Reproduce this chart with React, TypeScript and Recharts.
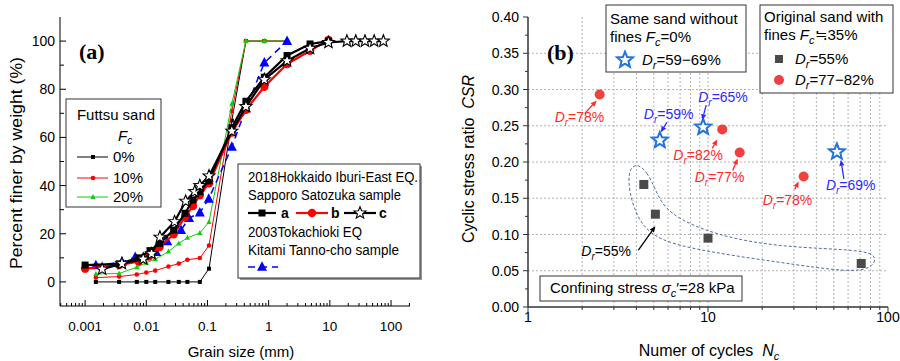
import React from 'react';
import { ScatterChart, Scatter, XAxis, YAxis, ReferenceLine } from 'recharts';

// ---------- panel (a): grain size distribution ----------
const futtsuSizes = [0.0015, 0.0036, 0.007, 0.01, 0.014, 0.023, 0.034, 0.047, 0.075, 0.106, 0.25, 0.425, 0.85, 2.0];
const futtsu0 = [0, 0, 0, 0, 0, 0, 0, 0, 0, 5.5, 67, 100, 100, 100];
const futtsu10 = [1.8, 2.2, 3.1, 3.9, 4.7, 6.4, 7.6, 9.2, 9.9, 15.1, 71, 100, 100, 100];
const futtsu20 = [3.3, 3.5, 6.1, 8.0, 9.4, 12.6, 16, 18.3, 20.3, 24.9, 74, 100, 100, 100];

const sapporoASizes = [0.001, 0.0036, 0.0075, 0.0115, 0.0165, 0.028, 0.043, 0.058, 0.075, 0.106, 0.25, 0.425, 0.85, 2, 4.75, 9.5];
const sapporoA = [7, 7.5, 10, 13, 16, 21.5, 28.5, 34, 37.5, 42, 64, 75, 85, 94, 98.8, 100];
const sapporoBSizes = [0.001, 0.0036, 0.0075, 0.011, 0.0165, 0.028, 0.043, 0.058, 0.075, 0.106, 0.25, 0.425, 0.85, 2, 4.75, 9.5];
const sapporoB = [5.5, 7, 8.5, 10.5, 14.5, 19.8, 27, 31.5, 36, 41, 62, 71.5, 81, 90.5, 96, 100.5];
const sapporoCSizes = [0.0019, 0.004, 0.0089, 0.0122, 0.0167, 0.029, 0.044, 0.062, 0.075, 0.106, 0.25, 0.425, 0.85, 2, 4.75, 9.5, 19, 26.5, 37.5, 53, 75];
const sapporoC = [5.3, 7.6, 9.5, 11.7, 18.6, 25, 33.5, 37.5, 40, 44, 62.6, 72.8, 84, 91.8, 97, 99.4, 100, 100, 100, 100, 100];

const kitamiSizes = [0.0015, 0.004, 0.0066, 0.0145, 0.022, 0.037, 0.05, 0.075, 0.105, 0.25, 0.425, 0.85, 2.0];
const kitami = [6.8, 8.3, 10.3, 12.3, 16.8, 21.5, 26.5, 28.7, 34.5, 56, 72, 91, 100];

const grainMajor = [0.001, 0.01, 0.1, 1, 10, 100];
const pctMajor = [0, 20, 40, 60, 80, 100];
const pctAll = [0, 10, 20, 30, 40, 50, 60, 70, 80, 90, 100];

// ---------- panel (b): cyclic strength ----------
const looseN = [4.4, 5.1, 10, 71];
const looseCsr = [0.169, 0.128, 0.095, 0.06];
const denseN = [2.5, 12, 15, 34];
const denseCsr = [0.293, 0.245, 0.213, 0.18];
const cleanN = [5.4, 9.4, 52];
const cleanCsr = [0.23, 0.248, 0.214];

// dashed loop around the Dr=55% tests
const outlineN = [4.0, 4.6, 5.1, 5.9, 11.2, 26, 76, 87, 81, 60, 26, 7.2, 4.1, 3.45];
const outlineCsr = [0.2, 0.186, 0.162, 0.128, 0.098, 0.082, 0.079, 0.068, 0.053, 0.048, 0.061, 0.081, 0.104, 0.184];

const nMajor = [1, 10, 100];
const csrMajor = [0, 0.05, 0.1, 0.15, 0.2, 0.25, 0.3, 0.35, 0.4];
const csrGrid = [0.05, 0.1, 0.15, 0.2, 0.25, 0.3, 0.35];

const noteLabels = ['=78%', '=59%', '=65%', '=82%', '=77%', '=78%', '=69%', '=55%'];

const RED = '#ff0000';
const GREEN = '#11cc11';
const BLUE = '#0000ff';
const B_RED = '#f04141';
const B_BLUE = '#2372e0';
const T_RED = '#ff2a2a';
const T_BLUE = '#2b2bff';
const GREY_SQ = '#4a4a4a';
const OUTLINE = '#4f6f9f';
const SANS = "'Liberation Sans', Arial, sans-serif";
const SERIF = "'Liberation Serif', 'Times New Roman', serif";

const pairs = (xs: number[], ys: number[]) => xs.map((d, i) => ({ d, p: ys[i] }));
const decadeMinors = (bases: number[], lo: number, hi: number) =>
  bases.flatMap((b) => [1, 2, 3, 4, 5, 6, 7, 8, 9].map((m) => +(b * m).toPrecision(6))).filter((v) => v >= lo && v <= hi);

const A_DOMAIN: [number, number] = [Math.pow(10, -3.41), Math.pow(10, 2.31)];
const grainTicks = decadeMinors([0.0001, 0.001, 0.01, 0.1, 1, 10, 100], A_DOMAIN[0], A_DOMAIN[1]);
const nTicks = decadeMinors([1, 10, 100], 1, 100);
const csrTicks = Array.from({ length: 17 }, (_, i) => +(i * 0.025).toFixed(3));

const noteLayout = [
  { tip: [-3, 6], tail: [-15, 19], text: [-45, 27], color: T_RED },
  { tip: [1, -8], tail: [7, -18], text: [-16, -21], color: T_BLUE },
  { tip: [-1, -7], tail: [3, -22], text: [-5, -25], color: T_BLUE },
  { tip: [-5, 10], tail: [-10, 19], text: [-49, 31], color: T_RED },
  { tip: [-2, 6], tail: [-7, 18], text: [-45, 29], color: T_RED },
  { tip: [-5, 5], tail: [-9, 13], text: [-41, 28], color: T_RED },
  { tip: [4, 8], tail: [7, 27], text: [-11, 38], color: T_BLUE },
  { tip: [0, 12], tail: [-17, 36], text: [-74, 42], color: '#000' },
];
const noteTargets = [
  [denseN[0], denseCsr[0]],
  [cleanN[0], cleanCsr[0]],
  [cleanN[1], cleanCsr[1]],
  [denseN[1], denseCsr[1]],
  [denseN[2], denseCsr[2]],
  [denseN[3], denseCsr[3]],
  [cleanN[2], cleanCsr[2]],
  [looseN[1], looseCsr[1]],
];
const notes = noteTargets.map(([d, p], i) => ({ d, p, label: noteLabels[i], ...noteLayout[i] }));

function starPath(cx: number, cy: number, ro: number, ri: number) {
  let s = '';
  for (let i = 0; i < 10; i++) {
    const r = i % 2 === 0 ? ro : ri;
    const a = -Math.PI / 2 + (i * Math.PI) / 5;
    s += (i === 0 ? 'M' : 'L') + (cx + r * Math.cos(a)).toFixed(2) + ',' + (cy + r * Math.sin(a)).toFixed(2);
  }
  return s + 'Z';
}
const triPath = (cx: number, cy: number, w: number, h: number) =>
  `M${cx},${cy - h * 0.6}L${cx + w},${cy + h * 0.4}L${cx - w},${cy + h * 0.4}Z`;

// marker shapes
const sqSmall = ({ cx, cy }: any) => <rect x={cx - 2} y={cy - 2} width={4} height={4} fill="#000" />;
const dotSmall = ({ cx, cy }: any) => <circle cx={cx} cy={cy} r={2.3} fill={RED} />;
const triSmall = ({ cx, cy }: any) => <path d={triPath(cx, cy, 2.6, 5)} fill={GREEN} />;
const sqA = ({ cx, cy }: any) => <rect x={cx - 3.5} y={cy - 3.5} width={7} height={7} fill="#000" />;
const dotB = ({ cx, cy }: any) => <circle cx={cx} cy={cy} r={4.2} fill={RED} />;
const starC = ({ cx, cy }: any) => <path d={starPath(cx, cy, 6.3, 2.7)} fill="#fff" stroke="#000" strokeWidth={1.1} />;
const triK = ({ cx, cy }: any) => <path d={triPath(cx, cy, 5, 9.5)} fill={BLUE} />;
const sqLoose = ({ cx, cy }: any) => <rect x={cx - 4.5} y={cy - 4.5} width={9} height={9} fill={GREY_SQ} />;
const dotDense = ({ cx, cy }: any) => <circle cx={cx} cy={cy} r={5} fill={B_RED} />;
const starClean = ({ cx, cy }: any) => (
  <path d={starPath(cx, cy, 8.3, 3.6)} fill="#fff" stroke={B_BLUE} strokeWidth={2} strokeLinejoin="miter" />
);
const nothing = () => <g />;

function NoteShape({ cx, cy, payload }: any) {
  const { tip, tail, text, color, label } = payload;
  const x1 = cx + tail[0], y1 = cy + tail[1];
  const x2 = cx + tip[0], y2 = cy + tip[1];
  const a = Math.atan2(y2 - y1, x2 - x1);
  const bx = x2 - 6 * Math.cos(a), by = y2 - 6 * Math.sin(a);
  const ox = -2.6 * Math.sin(a), oy = 2.6 * Math.cos(a);
  return (
    <g>
      <line x1={x1} y1={y1} x2={bx} y2={by} stroke={color} strokeWidth={1.3} />
      <path d={`M${x2},${y2}L${bx + ox},${by + oy}L${bx - ox},${by - oy}Z`} fill={color} />
      <text x={cx + text[0]} y={cy + text[1]} fill={color} fontSize={14} fontFamily={SANS}>
        <tspan fontStyle="italic">D</tspan>
        <tspan fontStyle="italic" fontSize={10} dy={4}>r</tspan>
        <tspan dy={-4}>{label}</tspan>
      </text>
    </g>
  );
}

// ---------- tick renderers ----------
const grainLabel = (v: number) => String(v);
const ATickBottom = ({ x, y, payload }: any) => {
  const major = grainMajor.includes(payload.value);
  return (
    <g>
      <line x1={x} x2={x} y1={y} y2={y - (major ? 6 : 3)} stroke="#000" />
      {major && (
        <text x={x} y={y + 25} textAnchor="middle" fontSize={13.5} fontFamily={SANS} fill="#000">
          {grainLabel(payload.value)}
        </text>
      )}
    </g>
  );
};
const ATickTop = ({ x, y, payload }: any) => {
  const major = grainMajor.includes(payload.value);
  return <line x1={x} x2={x} y1={y} y2={y + (major ? 6 : 3)} stroke="#000" />;
};
const ATickLeft = ({ x, y, payload }: any) => {
  const major = pctMajor.includes(payload.value);
  return (
    <g>
      <line x1={x} x2={x + (major ? 6 : 4)} y1={y} y2={y} stroke="#000" />
      {major && (
        <text x={x - 5} y={y + 5} textAnchor="end" fontSize={14} fontFamily={SANS} fill="#000">
          {payload.value}
        </text>
      )}
    </g>
  );
};
const ATickRight = ({ x, y }: any) => <line x1={x} x2={x - 5} y1={y} y2={y} stroke="#000" />;

const BTickBottom = ({ x, y, payload }: any) => {
  const major = nMajor.includes(payload.value);
  return (
    <g>
      <line x1={x} x2={x} y1={y} y2={y + (major ? 5 : 3)} stroke="#333" />
      {major && (
        <text x={x} y={y + 15} textAnchor="middle" fontSize={14} fontFamily={SANS} fill="#000">
          {payload.value}
        </text>
      )}
    </g>
  );
};
const BTickLeft = ({ x, y, payload }: any) => {
  const major = csrMajor.includes(payload.value);
  return (
    <g>
      <line x1={x} x2={x - (major ? 5 : 3)} y1={y} y2={y} stroke="#333" />
      {major && (
        <text x={x - 9} y={y + 5} textAnchor="end" fontSize={14} fontFamily={SANS} fill="#000">
          {payload.value.toFixed(2)}
        </text>
      )}
    </g>
  );
};
const BTickRight = ({ x, y }: any) => <line x1={x} x2={x - 4} y1={y} y2={y} stroke="#333" />;

function GrainChart() {
  const thin = (c: string) => ({ stroke: c, strokeWidth: 1, fill: 'none' });
  const thick = (c: string) => ({ stroke: c, strokeWidth: 2.2, fill: 'none' });
  return (
    <ScatterChart width={450} height={361} margin={{ top: 17, right: 40, bottom: 25, left: 0 }}>
      <XAxis
        dataKey="d"
        type="number"
        scale="log"
        domain={A_DOMAIN}
        allowDataOverflow
        ticks={grainTicks}
        interval={0}
        height={30}
        tickSize={0}
        tickMargin={0}
        tickLine={false}
        tick={ATickBottom}
        axisLine={{ stroke: '#000' }}
      />
      <XAxis
        xAxisId="top"
        orientation="top"
        type="number"
        scale="log"
        domain={A_DOMAIN}
        allowDataOverflow
        ticks={grainTicks}
        interval={0}
        height={0}
        tickSize={0}
        tickMargin={0}
        tickLine={false}
        tick={ATickTop}
        axisLine={{ stroke: '#000' }}
      />
      <YAxis
        dataKey="p"
        type="number"
        domain={[-10, 110]}
        allowDataOverflow
        ticks={pctAll}
        interval={0}
        width={60}
        tickSize={0}
        tickMargin={0}
        tickLine={false}
        tick={ATickLeft}
        axisLine={{ stroke: '#000' }}
      />
      <YAxis
        yAxisId="right"
        orientation="right"
        type="number"
        domain={[-10, 110]}
        ticks={pctAll}
        interval={0}
        width={0}
        tickSize={0}
        tickMargin={0}
        tickLine={false}
        tick={ATickRight}
        axisLine={{ stroke: '#000' }}
      />
      <Scatter data={pairs(futtsuSizes, futtsu0)} line={thin('#000')} lineType="joint" shape={sqSmall} isAnimationActive={false} />
      <Scatter data={pairs(futtsuSizes, futtsu10)} line={thin(RED)} lineType="joint" shape={dotSmall} isAnimationActive={false} />
      <Scatter data={pairs(futtsuSizes, futtsu20)} line={thin(GREEN)} lineType="joint" shape={triSmall} isAnimationActive={false} />
      <Scatter
        data={pairs(kitamiSizes, kitami)}
        line={{ stroke: BLUE, strokeWidth: 1.5, strokeDasharray: '7 5', fill: 'none' }}
        lineType="joint"
        shape={triK}
        isAnimationActive={false}
      />
      <Scatter data={pairs(sapporoBSizes, sapporoB)} line={thick(RED)} lineType="joint" shape={dotB} isAnimationActive={false} />
      <Scatter data={pairs(sapporoASizes, sapporoA)} line={thick('#000')} lineType="joint" shape={sqA} isAnimationActive={false} />
      <Scatter data={pairs(sapporoCSizes, sapporoC)} line={thick('#000')} lineType="joint" shape={starC} isAnimationActive={false} />
    </ScatterChart>
  );
}

function CyclicChart() {
  const gridStyle = { stroke: '#b4b4b4', strokeDasharray: '2 2', strokeWidth: 1 };
  return (
    <ScatterChart width={450} height={361} margin={{ top: 17, right: 12, bottom: 24, left: 0 }}>
      <XAxis
        dataKey="d"
        type="number"
        scale="log"
        domain={[1, 100]}
        allowDataOverflow
        ticks={nTicks}
        interval={0}
        height={30}
        tickSize={0}
        tickMargin={0}
        tickLine={false}
        tick={BTickBottom}
        axisLine={{ stroke: '#333', strokeWidth: 1.5 }}
      />
      <XAxis
        xAxisId="top"
        orientation="top"
        type="number"
        scale="log"
        domain={[1, 100]}
        height={0}
        tick={false}
        tickLine={false}
        axisLine={{ stroke: '#333', strokeWidth: 1.5 }}
      />
      <YAxis
        dataKey="p"
        type="number"
        domain={[0, 0.4]}
        allowDataOverflow
        ticks={csrTicks}
        interval={0}
        width={78}
        tickSize={0}
        tickMargin={0}
        tickLine={false}
        tick={BTickLeft}
        axisLine={{ stroke: '#333', strokeWidth: 1.5 }}
      />
      <YAxis
        yAxisId="right"
        orientation="right"
        type="number"
        domain={[0, 0.4]}
        ticks={csrTicks}
        interval={0}
        width={0}
        tickSize={0}
        tickMargin={0}
        tickLine={false}
        tick={BTickRight}
        axisLine={{ stroke: '#333', strokeWidth: 1.5 }}
      />
      {nTicks
        .filter((v) => v > 1 && v < 100)
        .map((v) => (
          <ReferenceLine key={'gx' + v} x={v} {...gridStyle} />
        ))}
      {csrGrid.map((v) => (
        <ReferenceLine key={'gy' + v} y={v} {...gridStyle} />
      ))}
      <Scatter
        data={pairs(outlineN, outlineCsr)}
        line={{ stroke: OUTLINE, strokeWidth: 1, strokeDasharray: '3 2', fill: 'none' }}
        lineType="joint"
        lineJointType="basisClosed"
        shape={nothing}
        isAnimationActive={false}
      />
      <Scatter data={pairs(looseN, looseCsr)} shape={sqLoose} isAnimationActive={false} />
      <Scatter data={pairs(denseN, denseCsr)} shape={dotDense} isAnimationActive={false} />
      <Scatter data={pairs(cleanN, cleanCsr)} shape={starClean} isAnimationActive={false} />
      <Scatter data={notes} shape={NoteShape} isAnimationActive={false} />
    </ScatterChart>
  );
}

function Overlay() {
  const t = { fontFamily: SANS, fill: '#000' } as const;
  const fit = (w: number) => ({ textLength: w, lengthAdjust: 'spacingAndGlyphs' as const });
  return (
    <svg width={900} height={361} style={{ position: 'absolute', left: 0, top: 0, pointerEvents: 'none' }}>
      {/* panel (a) */}
      <text x={79} y={59} fontFamily={SERIF} fontWeight="bold" fontSize={22}>(a)</text>
      <text transform="translate(22,163) rotate(-90)" textAnchor="middle" fontSize={16} {...t} {...fit(212)}>
        Percent finer by weight  (%)
      </text>
      <text x={241} y={357} textAnchor="middle" fontSize={15} {...t}>Grain size (mm)</text>

      <rect x={66} y={99} width={95} height={108} fill="#fff" stroke="#333" />
      <text x={77} y={120} fontSize={15} {...t} {...fit(78)}>Futtsu sand</text>
      <text x={118} y={141} fontSize={15} {...t}>
        <tspan fontStyle="italic">F</tspan>
        <tspan fontStyle="italic" fontSize={10} dy={3}>c</tspan>
      </text>
      {[
        { y: 157, c: '#000', m: sqSmall, l: '0%' },
        { y: 178, c: RED, m: dotSmall, l: '10%' },
        { y: 197, c: GREEN, m: triSmall, l: '20%' },
      ].map((e) => (
        <g key={e.l}>
          <line x1={77} x2={108} y1={e.y} y2={e.y} stroke={e.c} />
          {e.m({ cx: 93, cy: e.y })}
          <text x={113} y={e.y + 5} fontSize={15} {...t}>{e.l}</text>
        </g>
      ))}

      <rect x={240} y={166} width={182} height={114} fill="#999" />
      <rect x={238} y={164} width={182} height={114} fill="#fff" stroke="#333" />
      <text x={248} y={182} fontSize={14} {...t} {...fit(170)}>2018Hokkaido Iburi-East EQ.</text>
      <text x={248} y={200} fontSize={14} {...t} {...fit(153)}>Sapporo Satozuka sample</text>
      <line x1={248} x2={276} y1={213} y2={213} stroke="#000" strokeWidth={2.2} />
      {sqA({ cx: 262, cy: 213 })}
      <text x={281} y={218} fontSize={14} fontWeight="bold" {...t}>a</text>
      <line x1={296} x2={328} y1={213} y2={213} stroke={RED} strokeWidth={2.2} />
      {dotB({ cx: 312, cy: 213 })}
      <text x={331} y={218} fontSize={14} fontWeight="bold" {...t}>b</text>
      <line x1={344} x2={376} y1={213} y2={213} stroke="#000" strokeWidth={2.2} />
      {starC({ cx: 360, cy: 213 })}
      <text x={379} y={218} fontSize={14} fontWeight="bold" {...t}>c</text>
      <text x={248} y={237} fontSize={14} {...t} {...fit(114)}>2003Tokachioki EQ</text>
      <text x={248} y={255} fontSize={14} {...t} {...fit(151)}>Kitami Tanno-cho sample</text>
      <line x1={248} x2={278} y1={267} y2={267} stroke={BLUE} strokeWidth={1.5} strokeDasharray="7 5" />
      {triK({ cx: 262, cy: 267 })}

      {/* panel (b) */}
      <text x={547} y={60} fontFamily={SERIF} fontWeight="bold" fontSize={22}>(b)</text>
      <text transform="translate(468,159) rotate(-90)" textAnchor="middle" dominantBaseline="central" fontSize={16} {...t}>
        Cyclic stress ratio{'\u00a0\u00a0'}
        <tspan fontStyle="italic">CSR</tspan>
      </text>
      <text x={709} y={356} textAnchor="middle" fontSize={16} {...t}>
        Numer of cycles{'\u00a0\u00a0'}
        <tspan fontStyle="italic">N</tspan>
        <tspan fontStyle="italic" fontSize={11} dy={4}>c</tspan>
      </text>

      <rect x={606} y={5} width={140} height={67} fill="#fff" stroke="#333" />
      <text x={610} y={24} fontSize={15} {...t}>Same sand without</text>
      <text x={610} y={42} fontSize={15} {...t}>
        fines <tspan fontStyle="italic">F</tspan>
        <tspan fontStyle="italic" fontSize={11} dy={4}>c</tspan>
        <tspan dy={-4}>=0%</tspan>
      </text>
      {starClean({ cx: 625, cy: 60 })}
      <text x={642} y={65} fontSize={15} {...t}>
        <tspan fontStyle="italic">D</tspan>
        <tspan fontStyle="italic" fontSize={11} dy={4}>r</tspan>
        <tspan dy={-4}>=59−69%</tspan>
      </text>

      <rect x={760} y={5} width={133} height={88} fill="#fff" stroke="#333" />
      <text x={764} y={22} fontSize={15} {...t}>Original sand with</text>
      <text x={764} y={40} fontSize={15} {...t}>
        fines <tspan fontStyle="italic">F</tspan>
        <tspan fontStyle="italic" fontSize={11} dy={4}>c</tspan>
        <tspan dy={-4}>≒35%</tspan>
      </text>
      <rect x={775} y={55} width={8} height={8} fill={GREY_SQ} />
      <text x={795} y={64} fontSize={15} {...t}>
        <tspan fontStyle="italic">D</tspan>
        <tspan fontStyle="italic" fontSize={11} dy={4}>r</tspan>
        <tspan dy={-4}>=55%</tspan>
      </text>
      {dotDense({ cx: 779, cy: 80 })}
      <text x={795} y={85} fontSize={15} {...t}>
        <tspan fontStyle="italic">D</tspan>
        <tspan fontStyle="italic" fontSize={11} dy={4}>r</tspan>
        <tspan dy={-4}>=77−82%</tspan>
      </text>

      <rect x={540} y={276} width={202} height={25} fill="#fff" stroke="#333" />
      <text x={550} y={293} fontSize={15} {...t}>
        Confining stress <tspan fontStyle="italic">σ</tspan>
        <tspan fontStyle="italic" fontSize={11} dy={4}>c</tspan>
        <tspan dy={-4}>′=28 kPa</tspan>
      </text>
    </svg>
  );
}

export default function App() {
  return (
    <div style={{ position: 'absolute', left: 0, top: 0, width: 900, height: 361, background: '#fff', fontFamily: SANS }}>
      <div style={{ position: 'absolute', left: 0, top: 0 }}>
        <GrainChart />
      </div>
      <div style={{ position: 'absolute', left: 450, top: 0 }}>
        <CyclicChart />
      </div>
      <Overlay />
    </div>
  );
}
